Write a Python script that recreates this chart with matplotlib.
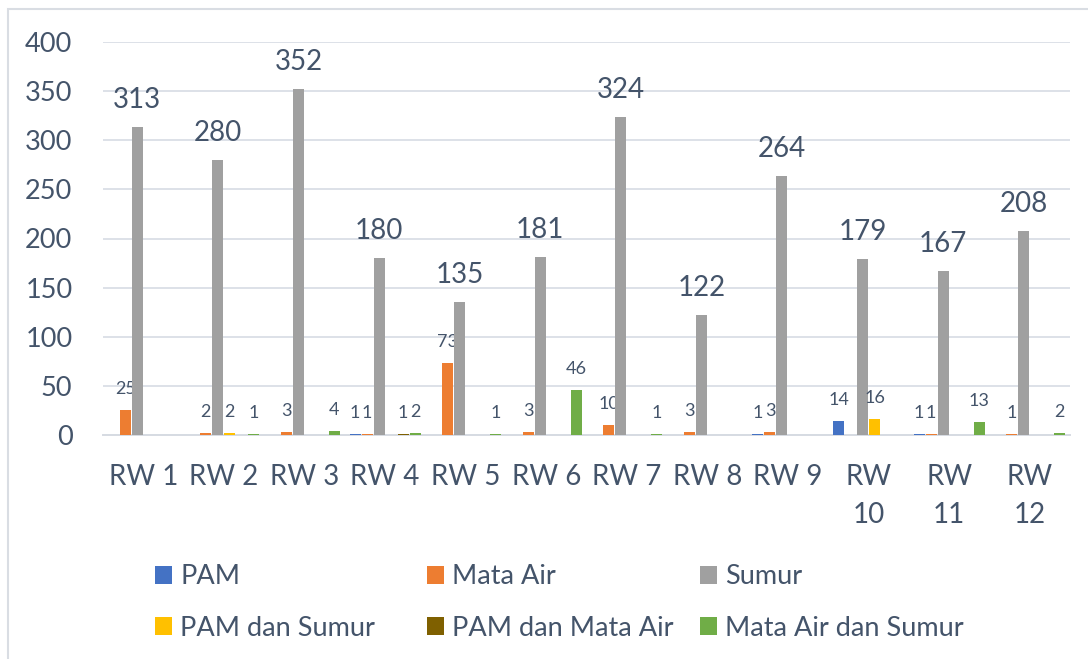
import matplotlib
matplotlib.use("Agg")
import matplotlib.pyplot as plt
import numpy as np
from matplotlib.patches import Rectangle, Patch

plt.rcParams['font.family'] = ['Lato', 'DejaVu Sans']

categories = ['RW 1', 'RW 2', 'RW 3', 'RW 4', 'RW 5', 'RW 6', 'RW 7', 'RW 8',
              'RW 9', 'RW 10', 'RW 11', 'RW 12']
tick_labels = ['RW 1', 'RW 2', 'RW 3', 'RW 4', 'RW 5', 'RW 6', 'RW 7', 'RW 8',
               'RW 9', 'RW\n10', 'RW\n11', 'RW\n12']
series_names = ['PAM', 'Mata Air', 'Sumur', 'PAM dan Sumur',
                'PAM dan Mata Air', 'Mata Air dan Sumur']
pam = [0, 0, 0, 1, 0, 0, 0, 0, 1, 14, 1, 0]
mata_air = [25, 2, 3, 1, 73, 3, 10, 3, 3, 0, 1, 1]
sumur = [313, 280, 352, 180, 135, 181, 324, 122, 264, 179, 167, 208]
pam_sumur = [0, 2, 0, 0, 0, 0, 0, 0, 0, 16, 0, 0]
pam_mata_air = [0, 0, 0, 1, 0, 0, 0, 0, 0, 0, 0, 0]
mata_air_sumur = [0, 1, 4, 2, 1, 46, 1, 0, 0, 0, 13, 2]
series_values = [pam, mata_air, sumur, pam_sumur, pam_mata_air, mata_air_sumur]
colors = ['#4472C4', '#ED7D31', '#A0A0A0', '#FFC000', '#7F6000', '#70AD47']

text_color = '#44546A'
W, H = 1088, 659
fig = plt.figure(figsize=(W / 100, H / 100), dpi=100)
ax = fig.add_axes([103 / W, 1 - 435 / H, 967 / W, 393 / H])

x = np.arange(len(categories))
step = 12 / 80.6
width = 11 / 80.6
for j, (name, vals, col) in enumerate(zip(series_names, series_values, colors)):
    xs = x + (j - 2.5) * step
    ax.bar(xs, vals, width=width, color=col, label=name, zorder=3)
    big = (j == 2)
    for xi, v in zip(xs, vals):
        if v == 0:
            continue
        ax.annotate(str(v), (xi, v), xytext=(0, 13.7 if big else 11.5),
                    textcoords='offset points', ha='center', va='baseline',
                    fontsize=20 if big else 13, color=text_color)

ax.set_xlim(-0.5, len(categories) - 0.5)
ax.set_ylim(0, 400)
ax.set_yticks(np.arange(0, 401, 50))
ax.yaxis.grid(True, color='#DDE1E8', linewidth=1.4, zorder=0)
ax.set_axisbelow(True)
for s in ['top', 'right', 'left']:
    ax.spines[s].set_visible(False)
ax.spines['bottom'].set_color('#D6DBE2')
ax.spines['bottom'].set_linewidth(1.4)
ax.set_xticks(x)
ax.set_xticklabels(tick_labels, linespacing=1.58)
ax.tick_params(axis='x', length=0, pad=21, labelsize=20, labelcolor=text_color)
ax.tick_params(axis='y', length=0, pad=22, labelsize=19.5, labelcolor=text_color)

# legend entries
leg_pos = [(155, 577), (427, 577), (700, 577), (155, 628), (427, 628), (700, 628)]
for (px, py), name, col in zip(leg_pos, series_names, colors):
    fig.legend(handles=[Patch(facecolor=col, edgecolor='none')], labels=[name],
               loc='center left', bbox_to_anchor=(px / W, 1 - py / H),
               frameon=False, fontsize=19.5, handlelength=0.63, handleheight=0.63,
               handletextpad=0.3, borderpad=0, borderaxespad=0,
               labelcolor=text_color)

# chart border
fig.patches.append(Rectangle((8 / W, -0.1), 1.2, (H - 9) / H + 0.1,
                             transform=fig.transFigure, fill=False,
                             edgecolor='#D9DDE3', linewidth=1.5, clip_on=False))

fig.savefig('out.png', dpi=100)
